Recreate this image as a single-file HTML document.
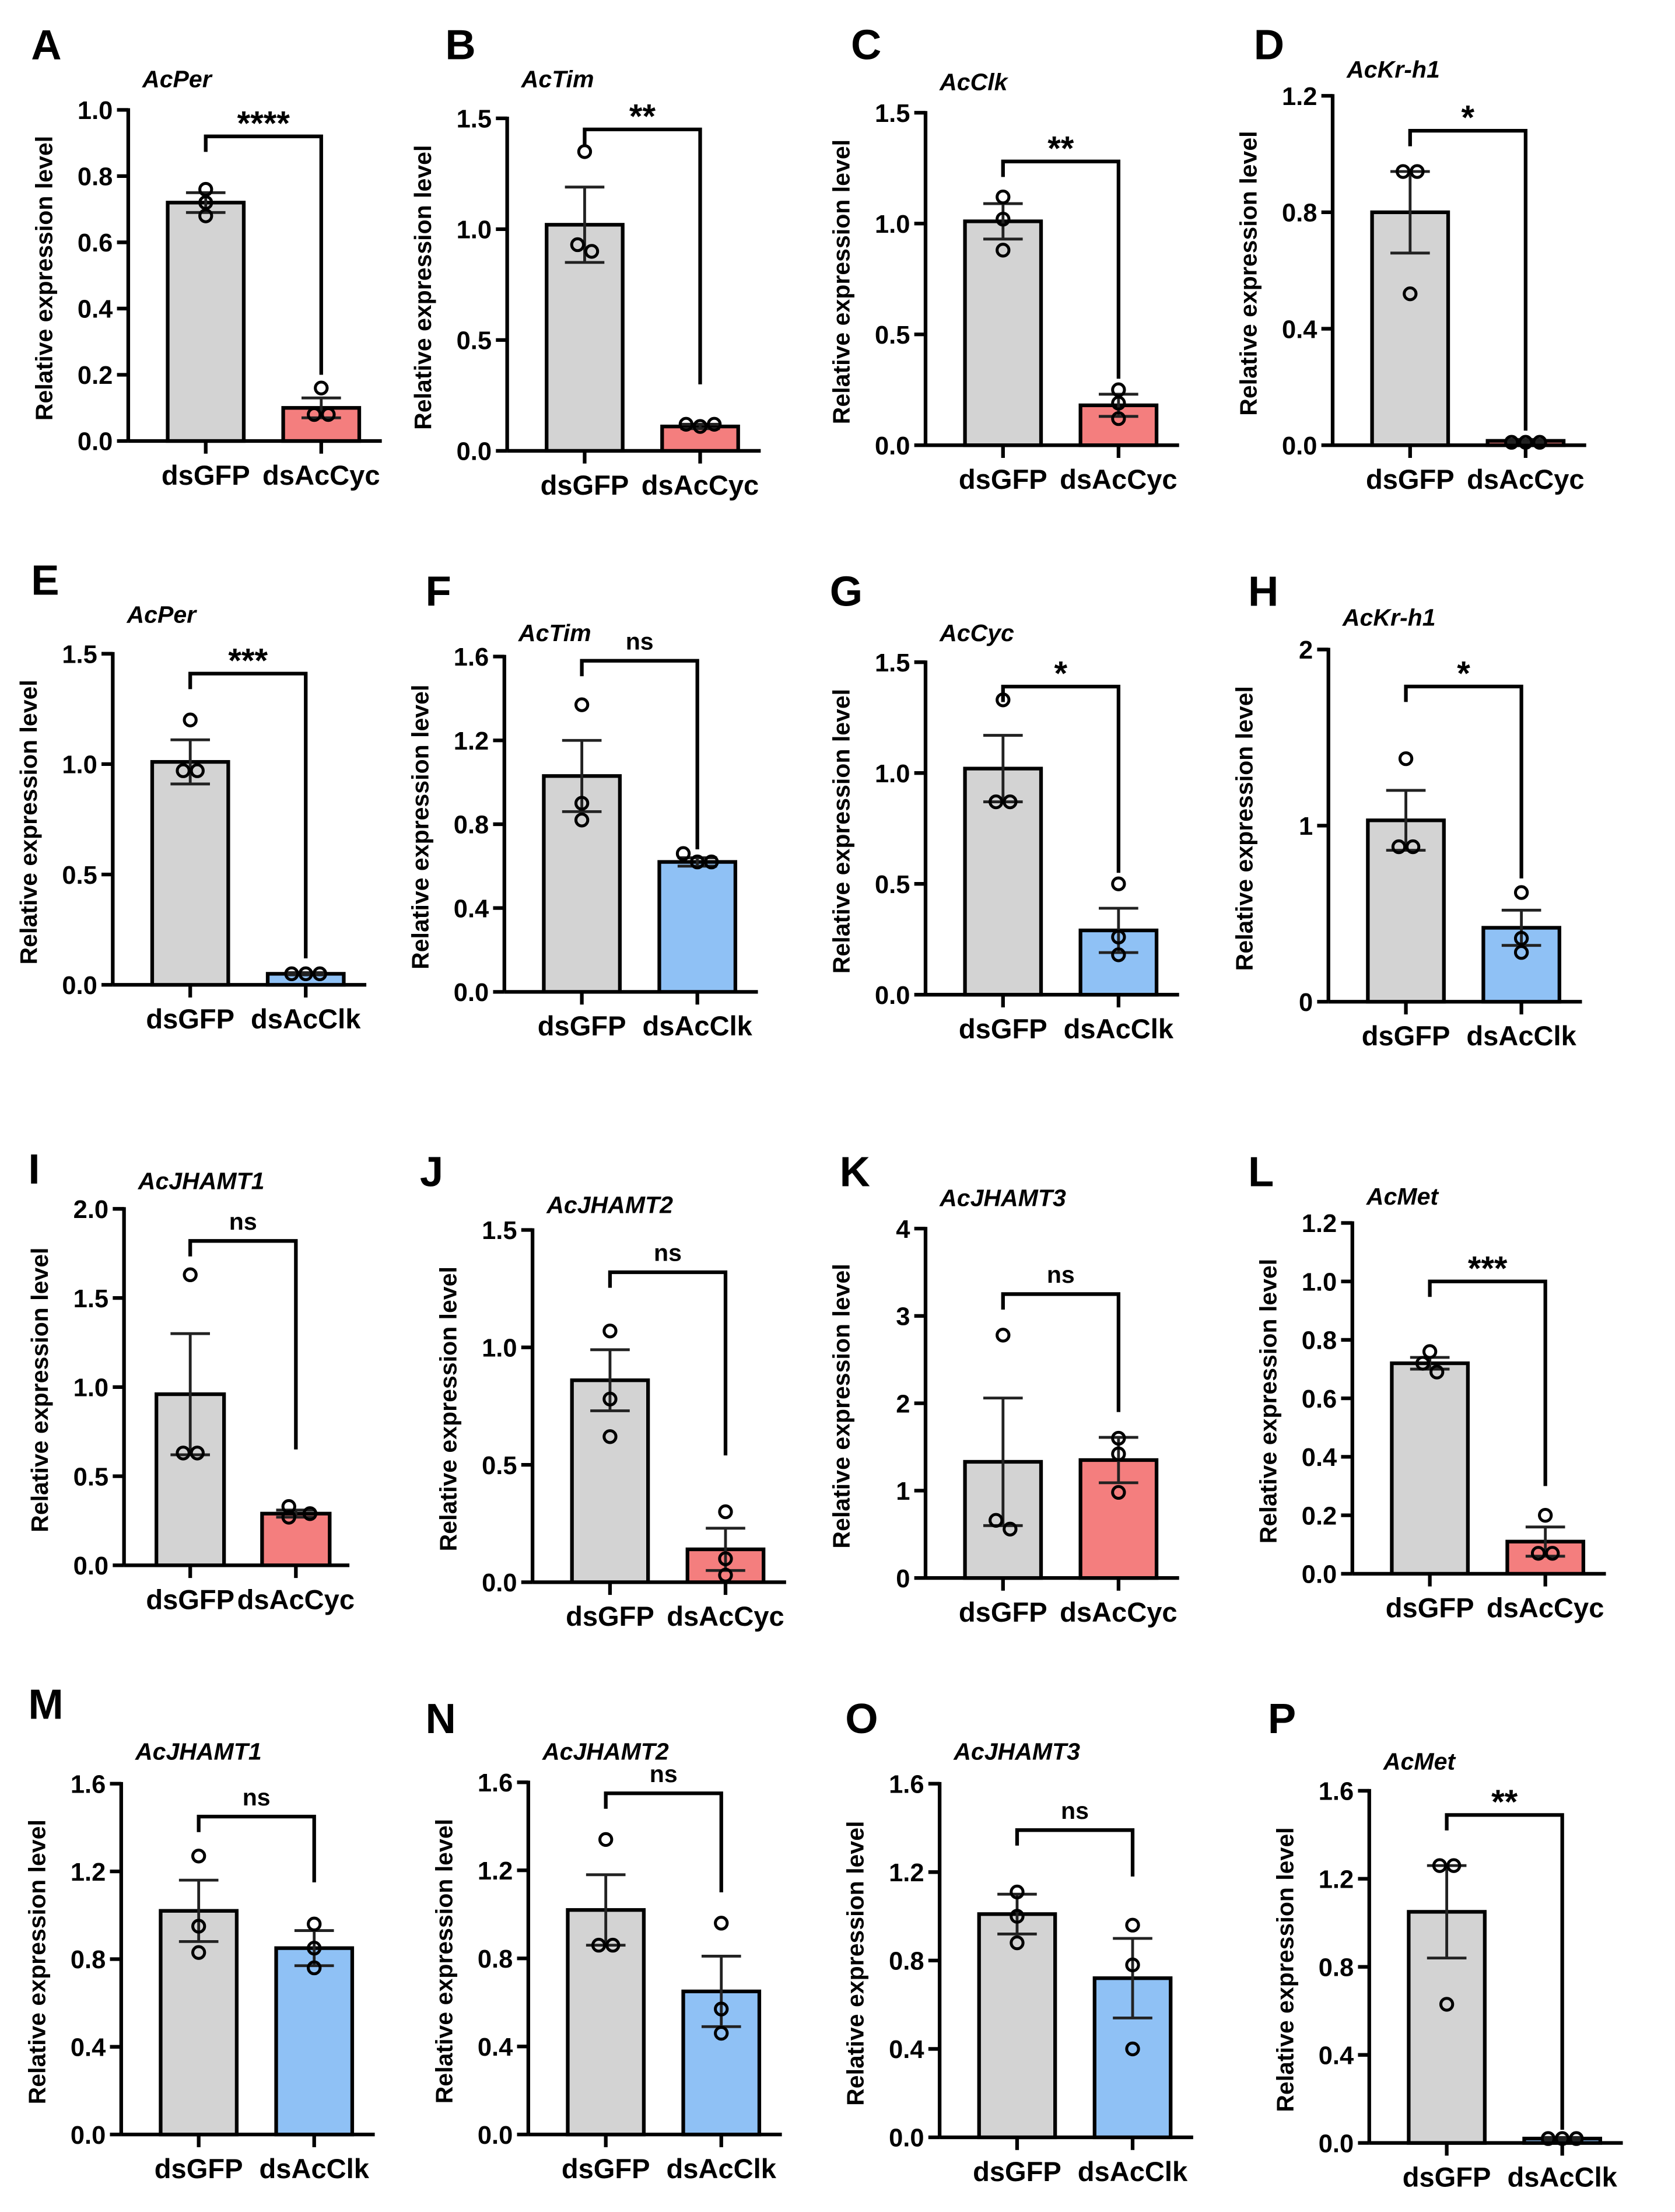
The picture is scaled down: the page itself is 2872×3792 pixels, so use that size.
<!DOCTYPE html>
<html><head><meta charset="utf-8"><style>
html,body{margin:0;padding:0;background:#fff}
svg{display:block}
text{font-family:"Liberation Sans",Arial,sans-serif;font-weight:bold;fill:#000}
</style></head><body>
<svg id="fig" width="2872" height="3792" viewBox="0 0 1189 1570"></svg>
<script>
const panelLetters=["A","B","C","D","E","F","G","H","I","J","K","L","M","N","O","P"];
const geneTitles=["AcPer","AcTim","AcClk","AcKr-h1","AcPer","AcTim","AcCyc","AcKr-h1","AcJHAMT1","AcJHAMT2","AcJHAMT3","AcMet","AcJHAMT1","AcJHAMT2","AcJHAMT3","AcMet"];
const groupLabels=[["dsGFP","dsAcCyc"],["dsGFP","dsAcClk"]];
const sigLabels=["****","**","**","*","***","ns","*","*","ns","ns","ns","***","ns","ns","ns","**"];
const yMax=[1.0,1.5,1.5,1.2,1.5,1.6,1.5,2,2.0,1.5,4,1.2,1.6,1.6,1.6,1.6];
const yStep=[0.2,0.5,0.5,0.4,0.5,0.4,0.5,1,0.5,0.5,1,0.2,0.4,0.4,0.4,0.4];
const tickDecimals=[1,1,1,1,1,1,1,0,1,1,0,1,1,1,1,1];
const gfpMeans=[0.72,1.02,1.01,0.80,1.01,1.03,1.02,1.03,0.96,0.86,1.33,0.72,1.02,1.02,1.01,1.05];
const trtMeans=[0.10,0.11,0.18,0.015,0.05,0.62,0.29,0.42,0.29,0.14,1.35,0.11,0.85,0.65,0.72,0.02];
const gfpSem=[0.03,0.17,0.08,0.14,0.10,0.17,0.15,0.17,0.34,0.13,0.73,0.02,0.14,0.16,0.09,0.21];
const trtSem=[0.03,0.01,0.05,0.005,0.005,0.02,0.10,0.10,0.02,0.09,0.26,0.05,0.08,0.16,0.18,0.005];
const gfpPoints=[[0.76,0.72,0.68],[1.35,0.93,0.90],[1.12,1.02,0.88],[0.94,0.94,0.52],[1.20,0.97,0.97],[1.37,0.90,0.82],[1.33,0.87,0.87],[1.38,0.88,0.88],[1.63,0.63,0.63],[1.07,0.78,0.62],[2.78,0.66,0.56],[0.76,0.72,0.69],[1.27,0.95,0.83],[1.34,0.86,0.86],[1.11,1.00,0.88],[1.26,1.26,0.63]];
const trtPoints=[[0.16,0.08,0.08],[0.12,0.11,0.12],[0.25,0.19,0.12],[0.01,0.01,0.01],[0.05,0.05,0.05],[0.66,0.62,0.62],[0.50,0.26,0.18],[0.62,0.36,0.28],[0.33,0.27,0.29],[0.30,0.10,0.03],[1.60,1.42,0.98],[0.20,0.07,0.07],[0.96,0.85,0.76],[0.96,0.57,0.46],[0.96,0.78,0.40],[0.02,0.02,0.02]];
const bracketTop=[0.92,1.45,1.28,1.08,1.41,1.58,1.39,1.79,1.82,1.32,3.25,1.00,1.45,1.55,1.39,1.49];
const bracketRightEnd=[0.2,0.3,0.3,0.05,0.12,0.68,0.55,0.7,0.65,0.54,1.9,0.3,1.15,1.1,1.18,0.06];
</script>
<script>
const svg=document.getElementById('fig');
const NS='http://www.w3.org/2000/svg';
function mk(tag,attrs,parent,txt){const e=document.createElementNS(NS,tag);for(const k in attrs)e.setAttribute(k,attrs[k]);if(txt!==undefined)e.textContent=txt;parent.appendChild(e);return e;}
const axisX=[91,360,657,946,80,358,657,943,88,378,657,960,86,375,667,972];
const axisY0=[313,320,316,316,699,704,706,711,1111,1123,1120,1117,1515,1515,1517,1521];
const axisYTop=[78,84,80,68,464,466,470,461,858,873,872,868,1266,1265,1266,1271];
const letterXY=[[22,42],[316,42],[604,42],[890,42],[22,422],[302,430],[589,430],[886,430],[20,840],[298,842],[596,842],[886,842],[20,1220],[302,1230],[600,1230],[900,1230]];
const titleY=[62,62,64,55,442,455,455,444,844,861,856,855,1249,1249,1249,1256];
const colorsTrt=["#f47e7e","#8fc1f5"];
for(let p=0;p<16;p++){
  const g=mk('g',{},svg);
  
  
  const ax=axisX[p],y0=axisY0[p],yt=axisYTop[p];
  const y=v=>y0-(v/yMax[p])*(y0-yt);
  const narrow=(p===8);
  const bw=narrow?48:54;
  const c1=ax+(narrow?47:55), c2=ax+(narrow?122:137);
  const xEnd=ax+(narrow?160:180);
  const row=Math.floor(p/4);
  const trtColor=(row===0||row===2)?colorsTrt[0]:colorsTrt[1];
  const labels=(row===0||row===2)?groupLabels[0]:groupLabels[1];
  let t=mk('text',{x:letterXY[p][0],y:letterXY[p][1],'font-size':30},g,panelLetters[p]);
  
  
  t=mk('text',{x:ax+10,y:titleY[p],'font-size':17,'font-style':'italic'},g,geneTitles[p]);
  
  
  t=mk('text',{x:0,y:0,'font-size':17,'text-anchor':'middle',transform:`translate(${ax-54},${(y0+yt)/2+2}) rotate(-90)`},g,'Relative expression level');
  
  
  let l=mk('line',{x1:ax,y1:yt-1.2,x2:ax,y2:y0,stroke:'#000','stroke-width':2.6},g);
  
  
  l=mk('line',{x1:ax,y1:y0,x2:xEnd,y2:y0,stroke:'#000','stroke-width':2.6},g);
  
  
  const nT=Math.round(yMax[p]/yStep[p]);
  for(let i=0;i<=nT;i++){
    const v=i*yStep[p];
    mk('line',{x1:ax-8,y1:y(v),x2:ax,y2:y(v),stroke:'#000','stroke-width':2.6},g);
    t=mk('text',{x:ax-11,y:y(v)+6.5,'font-size':18,'text-anchor':'end'},g,v.toFixed(tickDecimals[p]));
    
    
  }
  const groups=[[c1,gfpMeans[p],gfpSem[p],gfpPoints[p],'#d3d3d3'],[c2,trtMeans[p],trtSem[p],trtPoints[p],trtColor]];
  groups.forEach((gr,gi)=>{
    const [cx,m,se,pts,col]=gr;
    mk('line',{x1:cx,y1:y0,x2:cx,y2:y0+9,stroke:'#000','stroke-width':2.6},g);
    t=mk('text',{x:cx,y:y0+31,'font-size':19.5,'text-anchor':'middle'},g,labels[gi]);
    
    
    const r=mk('rect',{x:cx-bw/2,y:y(m),width:bw,height:y0-y(m),fill:col,stroke:'#000','stroke-width':2.6},g);
    
    
    const e=mk('path',{d:`M${cx-14},${y(m+se)}H${cx+14}M${cx},${y(m+se)}V${y(m-se)}M${cx-14},${y(m-se)}H${cx+14}`,stroke:'#222','stroke-width':2,fill:'none'},g);
    
    
    const tol=yMax[p]*0.03;
    pts.forEach((v,i)=>{
      const idx=pts.map((w,j)=>j).filter(j=>Math.abs(pts[j]-v)<tol);
      let dx=0;
      if(idx.length>1){const k=idx.indexOf(i);dx=(k-(idx.length-1)/2)*10;}
      const c=mk('circle',{cx:cx+dx,cy:y(v),r:4.2,fill:'none',stroke:'#000','stroke-width':2.1},g);
      
      
    });
  });
  const by=y(bracketTop[p]);
  const br=mk('path',{d:`M${c1},${by+11}V${by}H${c2}V${y(bracketRightEnd[p])}`,stroke:'#000','stroke-width':2.6,fill:'none'},g);
  
  
  const isNs=sigLabels[p]==='ns';
  t=mk('text',{x:(c1+c2)/2,y:by-(isNs?8:1),'font-size':isNs?17:24,'font-weight':isNs?'normal':'bold','text-anchor':'middle'},g,sigLabels[p]);
  
  
}
</script>
</body></html>
